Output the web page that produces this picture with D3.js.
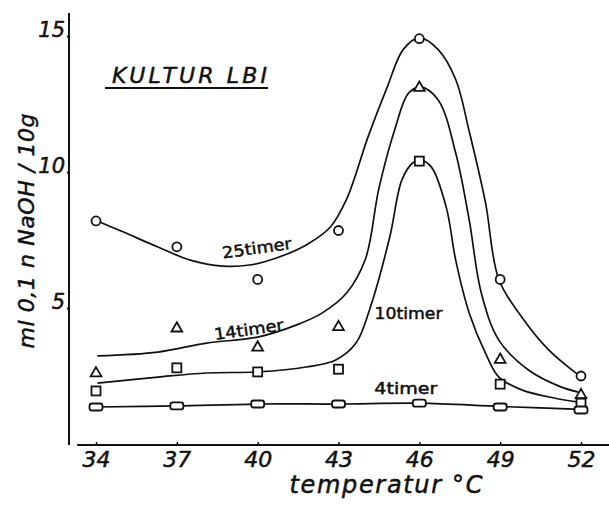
<!DOCTYPE html>
<html><head><meta charset="utf-8">
<script src="https://cdn.jsdelivr.net/npm/d3@7"></script>
<style>body{margin:0;background:#fff}svg{display:block}</style>
</head><body><svg id="c" width="609" height="505"></svg>
<script>
// ---- data ----
const temps = [34, 37, 40, 43, 46, 49, 52];
const xTicks = [34, 37, 40, 43, 46, 49, 52];
const yTicks = [5, 10, 15];
const pts25 = [8.2, 7.25, 6.05, 7.85, 14.9, 6.05, 2.5];   // circles
const pts14 = [2.6, 4.25, 3.55, 4.3, 13.1, 3.1, 1.8];     // triangles
const pts10 = [1.95, 2.8, 2.65, 2.75, 10.4, 2.2, 1.5];    // squares
const pts4  = [1.36, 1.4, 1.47, 1.47, 1.5, 1.36, 1.25];   // flat boxes
// fitted curves [temperature, value]
const curve25 = [[34.05,8.2],[35,7.8],[36.3,7.24],[37.5,6.76],[38.7,6.54],[39.7,6.58],[40.7,6.84],[41.8,7.32],[42.7,7.98],[43.3,9.0],[44.1,11.3],[44.8,13.1],[45.4,14.5],[46,14.93],[46.7,14.5],[47.35,13.4],[47.85,11.5],[48.45,8.9],[48.95,6.05],[49.8,4.67],[50.8,3.46],[51.9,2.54]];
const curve14 = [[34.05,3.24],[36.3,3.38],[38.1,3.71],[40,3.93],[41.45,4.38],[42.4,4.82],[43.3,5.55],[44.0,6.8],[44.5,9.4],[45.1,11.6],[45.6,12.9],[46.05,13.12],[46.7,12.65],[47.35,10.7],[47.85,8.24],[48.3,5.55],[48.95,3.82],[50.05,2.72],[51.25,2.1],[51.9,1.91]];
const curve10 = [[34.05,2.24],[36.3,2.46],[38.1,2.61],[40,2.65],[41.8,2.83],[42.9,3.09],[43.65,3.71],[44.15,4.93],[44.9,7.6],[45.35,9.7],[45.75,10.33],[46.05,10.44],[46.45,10.18],[47,8.7],[47.35,6.76],[47.85,4.82],[48.45,3.35],[48.95,2.46],[49.8,1.99],[51,1.69],[51.9,1.54]];
const curve4  = [[34,1.36],[37,1.4],[40,1.47],[43,1.47],[46,1.5],[49,1.38],[52,1.27]];
const curveLabels = [
  {text:"25timer", t:40.0, v:7.0, rot:-8, len:70},
  {text:"14timer", t:39.7, v:4.0, rot:-8, len:70},
  {text:"10timer", t:45.6, v:4.6, rot:0, len:68},
  {text:"4timer",  t:45.5, v:1.84, rot:0, len:63}
];

// ---- scales ----
const x = d3.scaleLinear().domain([34, 52]).range([96, 581]);
const y = d3.scaleLinear().domain([0, 15]).range([444, 36]);
const svg = d3.select("#c");
const ink = "#111";
const font = "'DejaVu Sans', Verdana, sans-serif";
const bold = sel => sel.attr("stroke", ink).attr("stroke-width", 0.5);

// axes lines
svg.append("line").attr("x1", 69).attr("x2", 69).attr("y1", y(15.85)).attr("y2", y(0) + 1)
  .attr("stroke", ink).attr("stroke-width", 2);
svg.append("line").attr("x1", x(33.3)).attr("x2", 609).attr("y1", y(0) + 1).attr("y2", y(0) + 1)
  .attr("stroke", ink).attr("stroke-width", 2);

// x axis
const gx = svg.append("g").attr("transform", `translate(0,${y(0)+1})`)
  .call(d3.axisBottom(x).tickValues(xTicks).tickSize(-3).tickPadding(5).tickFormat(d3.format("d")));
gx.select(".domain").remove();
gx.selectAll(".tick line").attr("stroke", ink).attr("stroke-width", 1.5);
gx.selectAll(".tick text").attr("font-family", font).attr("font-style", "italic")
  .attr("font-size", 22).attr("fill", ink).attr("dy", "0.75em").call(bold);

// y axis
const gy = svg.append("g").attr("transform", "translate(69,0)")
  .call(d3.axisLeft(y).tickValues(yTicks).tickSize(2).tickPadding(2).tickFormat(d3.format("d")));
gy.select(".domain").remove();
gy.selectAll(".tick line").attr("stroke", ink).attr("stroke-width", 2);
gy.selectAll(".tick text").attr("font-family", font).attr("font-style", "italic")
  .attr("font-size", 21).attr("fill", ink).attr("dy", "0").call(bold);

// curves
const line = d3.line().x(d => x(d[0])).y(d => y(d[1])).curve(d3.curveCatmullRom.alpha(0.5));
[curve25, curve14, curve10, curve4].forEach(c => {
  svg.append("path").datum(c).attr("d", line).attr("fill", "none")
    .attr("stroke", ink).attr("stroke-width", 1.7);
});

// markers
const mk = (arr) => temps.map((t, i) => ({t, v: arr[i]}));
svg.append("g").selectAll("circle").data(mk(pts25)).join("circle")
  .attr("cx", d => x(d.t)).attr("cy", d => y(d.v)).attr("r", 4.5)
  .attr("fill", "#fff").attr("stroke", ink).attr("stroke-width", 1.8);
svg.append("g").selectAll("path").data(mk(pts14)).join("path")
  .attr("d", d3.symbol(d3.symbolTriangle, 50))
  .attr("transform", d => `translate(${x(d.t)},${y(d.v)})`)
  .attr("fill", "#fff").attr("stroke", ink).attr("stroke-width", 1.8);
svg.append("g").selectAll("rect").data(mk(pts10)).join("rect")
  .attr("x", d => x(d.t) - 4.5).attr("y", d => y(d.v) - 4.5).attr("width", 9).attr("height", 9)
  .attr("fill", "#fff").attr("stroke", ink).attr("stroke-width", 1.8);
svg.append("g").selectAll("rect").data(mk(pts4)).join("rect")
  .attr("x", d => x(d.t) - 6.5).attr("y", d => y(d.v) - 3.5).attr("width", 13).attr("height", 7)
  .attr("rx", 2.5).attr("fill", "#fff").attr("stroke", ink).attr("stroke-width", 1.8);

// curve labels
svg.append("g").selectAll("text").data(curveLabels).join("text")
  .attr("transform", d => `translate(${x(d.t)},${y(d.v)}) rotate(${d.rot})`)
  .attr("text-anchor", "middle").attr("font-family", font)
  .attr("font-size", 16).attr("fill", ink).call(bold)
  .attr("textLength", d => d.len).attr("lengthAdjust", "spacingAndGlyphs").text(d => d.text);

// title
svg.append("text").attr("x", 112).attr("y", 83).attr("font-family", font).attr("font-style", "italic")
  .attr("font-size", 22).attr("fill", ink).attr("textLength", 155).attr("lengthAdjust", "spacing")
  .call(bold).text("KULTUR LBI");
svg.append("line").attr("x1", 105).attr("x2", 268).attr("y1", 88).attr("y2", 88)
  .attr("stroke", ink).attr("stroke-width", 2);

// axis titles
svg.append("text").attr("x", 386).attr("y", 493).attr("text-anchor", "middle")
  .attr("font-family", font).attr("font-style", "italic").attr("font-size", 24).attr("fill", ink)
  .attr("textLength", 193).attr("lengthAdjust", "spacing").call(bold).text("temperatur °C");
svg.append("text").attr("transform", "translate(34,231) rotate(-90)").attr("text-anchor", "middle")
  .attr("font-family", font).attr("font-style", "italic").attr("font-size", 22).attr("fill", ink)
  .attr("textLength", 235).attr("lengthAdjust", "spacing").call(bold).text("ml 0,1 n NaOH / 10g");
</script></body></html>
